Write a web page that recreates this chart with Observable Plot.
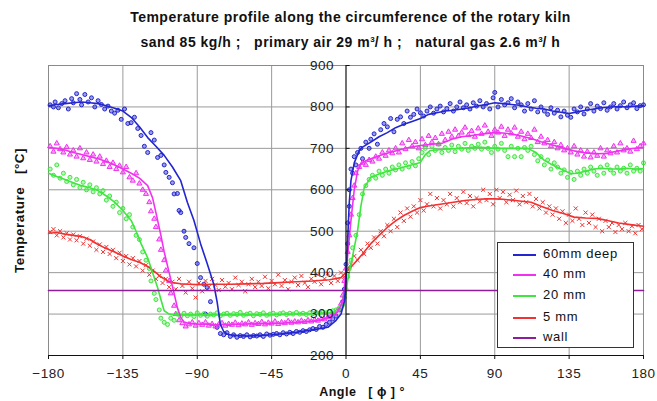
<!DOCTYPE html>
<html><head><meta charset="utf-8">
<script src="https://cdn.jsdelivr.net/npm/d3@7"></script>
<script src="https://cdn.jsdelivr.net/npm/@observablehq/plot@0.6"></script>
<style>
body{margin:0;background:#fff;font-family:"Liberation Sans",Arial,sans-serif;}
#wrap{position:relative;width:657px;height:401px;overflow:hidden;}
#title{height:56px;position:relative;}
.t{position:absolute;left:22px;width:657px;text-align:center;font-weight:bold;font-size:14px;letter-spacing:0.5px;line-height:16px;color:#111;white-space:pre;}
.t sup{font-size:8px;vertical-align:5px;letter-spacing:0;}
#legend{position:absolute;left:497px;top:242px;width:137px;height:106px;box-sizing:border-box;border:1px solid #333;background:#fff;}
.li{position:absolute;left:0;font-size:13px;letter-spacing:0.7px;color:#111;}
.ls{position:absolute;left:15px;width:23px;height:0;border-top:2px solid;}
.lt{position:absolute;left:45px;white-space:nowrap;line-height:15px;}
</style></head>
<body>
<div id="wrap">
  <div id="title">
    <div class="t" style="top:9px">Temperature profile along the circumference of the rotary kiln</div>
    <div class="t" style="top:32px">sand 85 kg/h ;   primary air 29 m<sup>3</sup>/ h ;   natural gas 2.6 m<sup>3</sup>/ h</div>
  </div>
  <div id="chart"></div>
  <div id="legend"></div>
</div>
<script>
const xTicks = [-180,-135,-90,-45,0,45,90,135,180];
const yTicks = [200,300,400,500,600,700,800,900];
const legendLabels = ["60mm deep","40 mm","20 mm","5 mm","wall"];
const colors = ["#2326cf","#f032f0","#3ee63e","#f03232","#8e1c9c"];

const wallLine = [[-180,357],[180,357]];

const blueLine = [[-180,803],[-175,806],[-170,808],[-165,810],[-160,812],[-155,810],[-150,808],[-145,803],[-140,797],[-135,790],[-130,775],[-125,752],[-120,726],[-115,705],[-110,683],[-105,655],[-100,622],[-96,570],[-92,526],[-88,470],[-84,422],[-80,372],[-78,330],[-76,275],[-74,258],[-72,252],[-70,250],[-65,248],[-60,247],[-55,248],[-50,249],[-45,250],[-40,252],[-35,254],[-30,256],[-25,259],[-20,262],[-15,265],[-11,268],[-6,285],[-3,300],[-1,330],[0,381],[1,480],[2,570],[3,622],[5,665],[8,695],[10,703],[15,715],[20,728],[25,738],[30,750],[35,758],[40,765],[45,772],[50,782],[55,786],[60,790],[65,792],[70,795],[75,798],[80,803],[85,806],[90,810],[95,808],[100,806],[105,804],[110,800],[115,797],[120,795],[125,790],[130,787],[135,784],[140,788],[145,792],[150,795],[155,798],[160,800],[165,801],[170,800],[175,802],[180,803]];

const magentaLine = [[-180,702],[-175,700],[-170,696],[-165,690],[-160,685],[-155,680],[-150,675],[-145,668],[-140,660],[-135,650],[-130,640],[-125,628],[-120,610],[-117,580],[-115,545],[-112,490],[-110,450],[-107,400],[-104,350],[-102,315],[-100,292],[-98,281],[-95,277],[-90,276],[-80,275],[-70,275],[-60,276],[-50,277],[-40,278],[-30,280],[-20,283],[-15,286],[-10,292],[-5,305],[-2,330],[0,400],[3,526],[5,600],[7,645],[9,663],[12,670],[15,675],[20,682],[25,688],[31,695],[38,702],[45,707],[52,710],[58,712],[64,722],[70,728],[76,731],[83,735],[90,738],[95,737],[100,735],[106,730],[112,724],[118,716],[125,708],[132,700],[138,694],[145,689],[152,687],[158,688],[165,694],[172,699],[180,702]];

const greenLine = [[-180,640],[-175,632],[-170,625],[-165,617],[-160,610],[-155,605],[-150,598],[-145,585],[-140,570],[-135,550],[-130,526],[-127,500],[-124,470],[-120,436],[-117,400],[-114,364],[-112,335],[-110,308],[-107,300],[-104,298],[-100,298],[-90,298],[-80,298],[-70,298],[-60,298],[-50,298],[-40,299],[-30,300],[-20,301],[-10,303],[-5,306],[-2,315],[0,350],[1,381],[4,440],[7,501],[9,560],[11,605],[15,630],[20,638],[25,645],[31,651],[38,658],[45,666],[48,685],[51,695],[60,698],[70,700],[80,703],[90,700],[100,700],[110,700],[115,690],[120,671],[125,660],[130,650],[136,639],[140,640],[145,645],[150,650],[155,652],[160,650],[165,650],[170,652],[175,650],[180,651]];

const redLine = [[-180,495],[-175,497],[-170,493],[-165,490],[-160,487],[-155,480],[-150,468],[-145,458],[-140,450],[-135,440],[-130,432],[-125,425],[-120,415],[-115,400],[-112,390],[-108,380],[-105,376],[-100,373],[-95,372],[-90,371],[-80,372],[-70,372],[-60,373],[-50,374],[-40,376],[-30,378],[-20,380],[-10,383],[-3,388],[1,405],[5,422],[10,445],[15,470],[20,490],[25,509],[30,525],[35,538],[40,548],[45,557],[50,561],[55,564],[60,567],[65,570],[72,574],[80,577],[85,578],[90,578],[95,577],[100,575],[105,573],[112,570],[118,560],[125,550],[132,542],[138,534],[145,532],[152,531],[158,526],[165,520],[172,516],[180,512]];

const bluePts = [[-179,805],[-177,800],[-176,812],[-174,798],[-172,808],[-170,815],[-168,795],[-166,820],[-165,810],[-163,832],[-161,818],[-160,805],[-158,830],[-156,812],[-154,822],[-152,800],[-150,815],[-148,806],[-146,795],[-144,802],[-142,790],[-140,785],[-138,792],[-136,770],[-134,795],[-132,760],[-130,762],[-128,775],[-126,748],[-124,731],[-122,705],[-120,690],[-118,738],[-116,720],[-114,678],[-112,683],[-110,660],[-109,642],[-107,630],[-105,617],[-104,590],[-102,591],[-101,550],[-100,545],[-98,500],[-97,485],[-95,470],[-92,460],[-90,422],[-88,388],[-86,372],[-85,300],[-84,364],[-82,330],[-78,268],[-76,253],[-74,250],[-72,255],[-70,246],[-68,250],[-66,244],[-64,248],[-62,246],[-60,250],[-58,245],[-56,248],[-54,247],[-52,250],[-50,246],[-48,252],[-46,249],[-44,251],[-42,253],[-40,250],[-38,255],[-36,252],[-34,256],[-32,253],[-30,258],[-28,256],[-26,260],[-24,258],[-22,262],[-20,265],[-18,263],[-16,270],[-14,268],[-12,275],[-10,280],[-8,288],[-6,295],[-4,310],[-2,330],[-1,360],[0,420],[1,470],[1,520],[2,560],[2,600],[3,650],[4,640],[5,680],[6,660],[7,690],[9,700],[10,675],[12,715],[14,700],[15,722],[17,735],[19,710],[21,745],[23,760],[25,752],[27,772],[29,740],[31,770],[33,776],[35,760],[37,790],[39,775],[41,782],[43,795],[45,786],[47,778],[49,790],[51,800],[53,785],[55,795],[57,802],[59,788],[61,796],[63,808],[65,790],[67,800],[69,812],[71,798],[73,805],[75,795],[77,810],[79,802],[81,815],[83,800],[85,808],[87,795],[89,822],[90,835],[92,800],[94,818],[96,805],[98,810],[100,820],[102,798],[104,812],[106,805],[108,790],[110,808],[112,795],[114,815],[116,788],[118,800],[120,790],[122,782],[124,798],[126,785],[128,792],[130,776],[132,790],[134,780],[136,775],[138,795],[140,788],[142,800],[144,783],[146,795],[148,808],[150,790],[152,802],[154,796],[156,810],[158,792],[160,800],[162,808],[164,795],[166,803],[168,812],[170,798],[172,805],[174,810],[176,796],[178,803],[180,805]];

const magentaPts = [[-179,705],[-177,692],[-175,712],[-173,698],[-171,690],[-169,703],[-167,685],[-165,695],[-163,680],[-161,700],[-159,676],[-157,690],[-155,672],[-153,685],[-151,668],[-149,680],[-147,662],[-145,670],[-143,655],[-141,665],[-139,650],[-137,658],[-135,642],[-133,655],[-131,630],[-129,622],[-127,640],[-125,615],[-123,600],[-121,590],[-119,570],[-118,548],[-116,530],[-115,510],[-113,480],[-112,455],[-110,430],[-109,405],[-107,380],[-106,350],[-104,320],[-103,300],[-101,285],[-99,278],[-97,270],[-95,275],[-93,280],[-91,272],[-89,278],[-87,274],[-85,280],[-83,272],[-81,276],[-79,270],[-77,275],[-75,278],[-73,272],[-71,276],[-69,274],[-67,279],[-65,273],[-63,277],[-61,275],[-59,280],[-57,274],[-55,278],[-53,276],[-51,281],[-49,275],[-47,279],[-45,277],[-43,282],[-41,276],[-39,280],[-37,278],[-35,283],[-33,279],[-31,282],[-29,280],[-27,284],[-25,281],[-23,285],[-21,282],[-19,286],[-17,284],[-15,288],[-13,287],[-11,292],[-9,295],[-7,300],[-5,310],[-3,325],[-2,345],[-1,380],[0,410],[1,450],[2,490],[3,540],[4,580],[5,610],[6,640],[8,655],[10,665],[12,660],[14,672],[16,668],[18,680],[20,675],[22,690],[24,682],[26,695],[28,688],[30,700],[32,690],[34,712],[36,698],[38,720],[40,705],[42,715],[44,700],[46,722],[48,708],[50,730],[52,715],[54,725],[56,710],[58,735],[60,720],[62,740],[64,728],[66,745],[68,730],[70,738],[72,750],[74,732],[76,742],[78,728],[80,748],[82,735],[84,755],[86,740],[88,730],[90,745],[92,738],[94,752],[96,730],[98,745],[100,736],[102,750],[104,728],[106,740],[108,722],[110,735],[112,725],[114,745],[116,715],[118,728],[120,712],[122,720],[124,705],[126,715],[128,700],[130,708],[132,695],[134,700],[136,690],[138,705],[140,685],[142,695],[144,680],[146,692],[148,678],[150,690],[152,682],[154,700],[156,680],[158,695],[160,688],[162,705],[164,690],[166,712],[168,695],[170,700],[172,692],[174,718],[176,698],[178,705],[180,712]];

const greenPts = [[-179,650],[-177,635],[-175,660],[-173,628],[-171,640],[-169,620],[-167,630],[-165,612],[-163,625],[-161,605],[-159,618],[-157,600],[-155,612],[-153,595],[-151,605],[-149,590],[-147,598],[-145,575],[-143,585],[-141,560],[-139,570],[-137,545],[-135,555],[-133,530],[-131,540],[-129,510],[-127,490],[-125,480],[-123,450],[-121,430],[-119,410],[-118,380],[-116,350],[-115,335],[-113,310],[-112,290],[-110,280],[-108,275],[-106,290],[-104,285],[-102,300],[-100,295],[-98,302],[-96,296],[-94,300],[-92,294],[-90,303],[-88,297],[-86,301],[-84,295],[-82,300],[-80,298],[-78,303],[-76,296],[-74,300],[-72,302],[-70,297],[-68,301],[-66,299],[-64,304],[-62,297],[-60,300],[-58,302],[-56,296],[-54,301],[-52,299],[-50,303],[-48,297],[-46,300],[-44,302],[-42,298],[-40,301],[-38,303],[-36,299],[-34,302],[-32,300],[-30,304],[-28,300],[-26,302],[-24,299],[-22,303],[-20,301],[-18,304],[-16,302],[-14,305],[-12,303],[-10,306],[-8,308],[-6,310],[-4,315],[-2,322],[-1,340],[0,360],[1,390],[2,410],[3,430],[4,460],[6,490],[8,540],[10,590],[12,610],[14,625],[16,635],[18,628],[20,645],[22,635],[24,650],[26,640],[28,655],[30,648],[32,660],[34,650],[36,665],[38,655],[40,668],[42,658],[44,675],[46,690],[48,700],[50,685],[52,705],[54,695],[56,710],[58,690],[60,702],[62,695],[64,708],[66,692],[68,705],[70,698],[72,712],[74,695],[76,705],[78,700],[80,710],[82,698],[84,715],[86,700],[88,690],[90,705],[92,698],[94,712],[96,695],[98,680],[100,705],[102,680],[104,700],[106,680],[108,702],[110,695],[112,705],[114,685],[116,670],[118,680],[120,660],[122,672],[124,650],[126,665],[128,655],[130,640],[132,648],[134,630],[136,642],[138,625],[140,645],[142,635],[144,650],[146,640],[148,655],[150,645],[152,635],[154,655],[156,640],[158,660],[160,648],[162,640],[164,655],[166,645],[168,652],[170,640],[172,660],[174,645],[176,652],[178,645],[180,665]];

const redPts = [[-179,498],[-177,505],[-175,490],[-173,500],[-171,485],[-169,495],[-167,480],[-165,492],[-163,478],[-161,488],[-159,470],[-157,482],[-155,465],[-153,475],[-151,455],[-149,468],[-147,450],[-145,462],[-143,445],[-141,455],[-139,435],[-137,448],[-135,428],[-133,440],[-131,420],[-129,435],[-127,415],[-125,428],[-123,405],[-121,418],[-119,395],[-117,405],[-115,385],[-113,392],[-111,375],[-109,385],[-107,365],[-105,378],[-103,360],[-101,385],[-99,368],[-97,352],[-95,378],[-93,362],[-91,340],[-89,375],[-87,355],[-85,380],[-83,365],[-81,385],[-79,370],[-77,358],[-75,382],[-73,366],[-71,375],[-69,360],[-67,388],[-65,370],[-63,378],[-61,355],[-59,372],[-57,385],[-55,365],[-53,378],[-51,368],[-49,390],[-47,362],[-45,380],[-43,372],[-41,395],[-39,368],[-37,382],[-35,360],[-33,378],[-31,388],[-29,370],[-27,392],[-25,375],[-23,365],[-21,385],[-19,378],[-17,395],[-15,372],[-13,385],[-11,398],[-9,375],[-7,392],[-5,380],[-3,400],[-1,390],[1,410],[3,420],[5,440],[7,430],[9,455],[11,445],[13,470],[15,460],[17,485],[19,470],[21,500],[23,488],[25,515],[27,500],[29,530],[31,510],[33,545],[35,525],[37,555],[39,535],[41,560],[43,545],[45,575],[47,550],[49,565],[51,590],[53,560],[55,580],[57,555],[59,575],[61,565],[63,590],[65,560],[67,580],[69,570],[71,595],[73,568],[75,585],[77,560],[79,580],[81,572],[83,600],[85,575],[87,590],[89,565],[91,600],[93,580],[95,595],[97,570],[99,588],[101,575],[103,598],[105,565],[107,585],[109,570],[111,590],[113,560],[115,578],[117,555],[119,570],[121,545],[123,560],[125,540],[127,555],[129,530],[131,548],[133,520],[135,540],[137,525],[139,555],[141,530],[143,515],[145,545],[147,520],[149,540],[151,510],[153,530],[155,500],[157,525],[159,510],[161,520],[163,498],[165,515],[167,505],[169,520],[171,500],[173,512],[175,495],[177,515],[179,505]];

const X = d => d[0], Y = d => d[1];
const gridXs = xTicks.filter(v => v !== 0 && Math.abs(v) !== 180);
const gridYs = yTicks.filter(v => v !== 200 && v !== 900);

const chart = Plot.plot({
  width: 657, height: 345,
  marginTop: 9, marginBottom: 46, marginLeft: 48, marginRight: 14,
  style: {fontFamily: '"Liberation Sans", Arial, sans-serif', background: "transparent", overflow: "visible", letterSpacing: "0.5px"},
  x: {domain: [-180, 180], axis: null},
  y: {domain: [200, 900], axis: null},
  marks: [
    Plot.gridX(gridXs, {stroke: "#9a9a9a", strokeOpacity: 1}),
    Plot.gridY(gridYs, {stroke: "#9a9a9a", strokeOpacity: 1}),
    Plot.frame({stroke: "#8a8a8a"}),
    Plot.dot(bluePts, {x: X, y: Y, r: 2, stroke: colors[0], fill: colors[0], fillOpacity: 0.45, strokeWidth: 1}),
    Plot.dot(magentaPts, {x: X, y: Y, r: 1.9, symbol: "triangle", stroke: colors[1], fill: colors[1], fillOpacity: 0.4, strokeWidth: 1}),
    Plot.dot(greenPts, {x: X, y: Y, r: 2, stroke: colors[2], fill: colors[2], fillOpacity: 0.35, strokeWidth: 1}),
    Plot.dot(redPts, {x: X, y: Y, r: 2, symbol: "times", stroke: colors[3], strokeWidth: 1}),
    Plot.line(redLine, {x: X, y: Y, stroke: colors[3], strokeWidth: 1.6}),
    Plot.line(greenLine, {x: X, y: Y, stroke: colors[2], strokeWidth: 1.6}),
    Plot.line(magentaLine, {x: X, y: Y, stroke: colors[1], strokeWidth: 1.6}),
    Plot.line(blueLine, {x: X, y: Y, stroke: colors[0], strokeWidth: 1.6}),
    Plot.line(wallLine, {x: X, y: Y, stroke: colors[4], strokeWidth: 1.6}),
    Plot.ruleX([0], {stroke: "#111", strokeWidth: 1.2}),
    Plot.ruleY([200], {stroke: "#111", strokeWidth: 1.2}),
    Plot.link(yTicks, {x1: 0, x2: 2.2, y1: d => d, y2: d => d, stroke: "#111"}),
    Plot.text(yTicks, {x: 0, y: d => d, text: d => String(d), dx: -12, textAnchor: "end", fontSize: 13.5, fill: "#222"}),
    Plot.axisX({ticks: xTicks, tickSize: 4, tickPadding: 9, fontSize: 13.5, label: null, stroke: "#111", fill: "#222"}),
    Plot.text(["Angle   [ \u03d5 ] \u00b0"], {text: d => d, frameAnchor: "bottom", dy: 40, dx: 16, fontWeight: "bold", fontSize: 12.5, fill: "#111"}),
    Plot.text(["Temperature   [\u00b0C]"], {text: d => d, frameAnchor: "left", textAnchor: "middle", dx: -29, rotate: -90, fontWeight: "bold", fontSize: 13.5, fill: "#111"})
  ]
});
document.getElementById("chart").appendChild(chart);

const lg = document.getElementById("legend");
const rowTops = [11, 31, 52, 74, 94];
legendLabels.forEach((lab, i) => {
  const row = document.createElement("div");
  row.className = "li";
  row.style.top = rowTops[i] + "px";
  row.innerHTML = `<div class="ls" style="border-color:${colors[i]};top:0px"></div><div class="lt" style="top:-8px">${lab}</div>`;
  lg.appendChild(row);
});
</script>
</body></html>
